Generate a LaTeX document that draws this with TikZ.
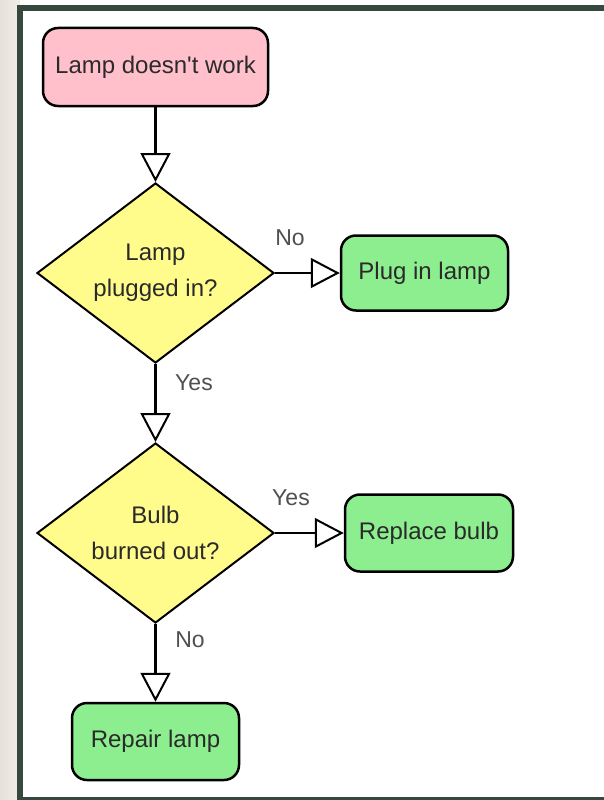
\documentclass[tikz,border=0pt]{standalone}
\usepackage{fontspec}
\setmainfont{Liberation Sans}
\usetikzlibrary{shapes.geometric,arrows.meta}
\definecolor{framec}{HTML}{37483E}
\definecolor{stripc}{HTML}{E6E2D9}
\definecolor{pinkc}{HTML}{FFC0CB}
\definecolor{greenc}{HTML}{8CEE8F}
\definecolor{yellowc}{HTML}{FFFC8C}
\definecolor{textc}{HTML}{2A2A2A}
\definecolor{lblc}{HTML}{505050}
\tikzset{
  box/.style={draw=black, line width=2.5pt, rounded corners=15pt, inner sep=0pt,
    text=textc, font=\fontsize{24}{36}\selectfont},
  decision/.style={diamond, draw=black, line width=2pt, fill=yellowc, inner sep=0pt,
    shape aspect=1.32, minimum width=237pt, minimum height=180pt, align=center,
    text=textc, font=\fontsize{24}{36}\selectfont},
  arr/.style={draw=black, line width=2.3pt,
    -{Triangle[length=29pt,width=30pt,fill=white,line width=2pt]}},
  lbl/.style={text=lblc, inner sep=0pt, font=\fontsize{23}{28}\selectfont}
}
\begin{document}
\begin{tikzpicture}[x=1pt,y=-1pt]
\useasboundingbox (0,0) rectangle (604,800);
\shade[left color=stripc, right color=stripc!60!white] (0,0) rectangle (20,800);
\fill[white] (20,8) rectangle (604,800);
\draw[framec, line width=6pt] (20,8.5) rectangle (615,800);

\node[box, fill=pinkc, minimum width=225pt, minimum height=78pt] (start) at (155.5,67) {Lamp doesn\textquotesingle t work};
\node[decision] (d1) at (155.5,273) {Lamp\\plugged in?};
\node[box, fill=greenc, minimum width=167pt, minimum height=75pt] (plug) at (424.5,273) {Plug in lamp};
\node[decision] (d2) at (155.5,533) {Bulb\\burned out?};
\node[box, fill=greenc, minimum width=168pt, minimum height=77pt] (repl) at (429,533) {Replace bulb};
\node[box, fill=greenc, minimum width=167pt, minimum height=77pt] (repair) at (155.5,741.5) {Repair lamp};

\draw[arr] (start.south) -- (d1.north);
\draw[arr] (d1.east) -- (plug.west);
\draw[arr] (d1.south) -- (d2.north);
\draw[arr] (d2.east) -- (repl.west);
\draw[arr] (d2.south) -- (repair.north);

\node[lbl] (no1) at (290,238) {No};
\node[lbl] (yes1) at (194,383) {Yes};
\node[lbl] (yes2) at (291,498) {Yes};
\node[lbl] (no2) at (190,640) {No};
\end{tikzpicture}
\end{document}
